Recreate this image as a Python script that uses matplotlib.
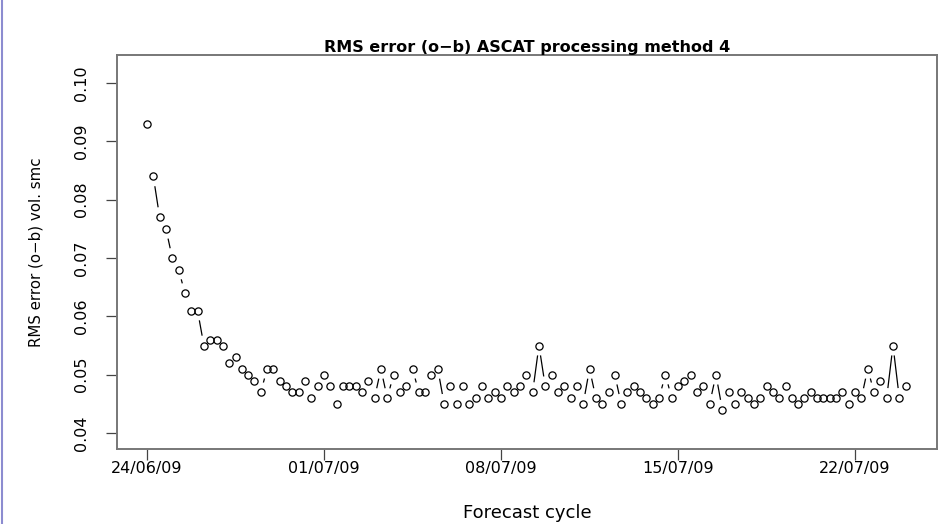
import numpy as np
import pandas as pd
import matplotlib
matplotlib.use("Agg")
import matplotlib.pyplot as plt
import matplotlib.dates as mdates
from matplotlib.collections import LineCollection

plt.rcParams['font.family'] = ['DejaVu Sans']

# RMS error (o-b), one value per 6-hourly forecast cycle from 24/06/09 00Z
rms_error = [
    0.093, 0.084, 0.077, 0.075, 0.070, 0.068, 0.064, 0.061, 0.061, 0.055,
    0.056, 0.056, 0.055, 0.052, 0.053, 0.051, 0.050, 0.049, 0.047, 0.051,
    0.051, 0.049, 0.048, 0.047, 0.047, 0.049, 0.046, 0.048, 0.050, 0.048,
    0.045, 0.048, 0.048, 0.048, 0.047, 0.049, 0.046, 0.051, 0.046, 0.050,
    0.047, 0.048, 0.051, 0.047, 0.047, 0.050, 0.051, 0.045, 0.048, 0.045,
    0.048, 0.045, 0.046, 0.048, 0.046, 0.047, 0.046, 0.048, 0.047, 0.048,
    0.050, 0.047, 0.055, 0.048, 0.050, 0.047, 0.048, 0.046, 0.048, 0.045,
    0.051, 0.046, 0.045, 0.047, 0.050, 0.045, 0.047, 0.048, 0.047, 0.046,
    0.045, 0.046, 0.050, 0.046, 0.048, 0.049, 0.050, 0.047, 0.048, 0.045,
    0.050, 0.044, 0.047, 0.045, 0.047, 0.046, 0.045, 0.046, 0.048, 0.047,
    0.046, 0.048, 0.046, 0.045, 0.046, 0.047, 0.046, 0.046, 0.046, 0.046,
    0.047, 0.045, 0.047, 0.046, 0.051, 0.047, 0.049, 0.046, 0.055, 0.046,
    0.048,
]
cycles = pd.date_range("2009-06-24", periods=len(rms_error), freq="6h")
tick_dates = pd.to_datetime(["2009-06-24", "2009-07-01", "2009-07-08",
                             "2009-07-15", "2009-07-22"])
tick_labels = ["24/06/09", "01/07/09", "08/07/09", "15/07/09", "22/07/09"]
y_ticks = [0.04, 0.05, 0.06, 0.07, 0.08, 0.09, 0.10]

fig = plt.figure(figsize=(9.38, 5.24), dpi=100)
ax = fig.add_axes([117 / 938, 1 - 449 / 524, 820 / 938, 394 / 524])

x = mdates.date2num(cycles)
y = np.array(rms_error)

ax.plot(x, y, linestyle="none", marker="o", markersize=5.2,
        markerfacecolor="none", markeredgecolor="black", markeredgewidth=0.9)

x0 = mdates.date2num(pd.Timestamp("2009-06-24"))
ax.set_xlim(x0 - 1.186, x0 + 31.24)
ax.set_ylim(0.03726, 0.1048)

# type="b" style: segments between points, trimmed back so they stop short
# of each circle (the first cycle stands alone)
gap = 10.0
pix = ax.transData.transform(np.column_stack([x, y]))
inv = ax.transData.inverted()
segs = []
for i in range(1, len(pix) - 1):
    p, q = pix[i], pix[i + 1]
    d = q - p
    dist = np.hypot(*d)
    if dist <= 2 * gap:
        continue
    u = d / dist
    segs.append(inv.transform([p + u * gap, q - u * gap]))
ax.add_collection(LineCollection(segs, colors="black", linewidths=0.9))

ax.set_xticks(mdates.date2num(tick_dates))
ax.set_xticklabels(tick_labels)
ax.set_yticks(y_ticks)
ax.set_yticklabels([f"{v:.2f}" for v in y_ticks], rotation=90, va="center")
ax.tick_params(axis="both", direction="out", length=8, width=0.9,
               color="#444444", labelsize=11.5)
ax.tick_params(axis="x", pad=1)
ax.tick_params(axis="y", pad=12)

for s in ax.spines.values():
    s.set_color("#777777")
    s.set_linewidth(1.4)

ax.set_title("RMS error (o\u2212b) ASCAT processing method 4",
             fontsize=11.5, fontweight="bold", pad=1)
ax.set_xlabel("Forecast cycle", fontsize=13)
ax.xaxis.set_label_coords(0.5, -0.14)
ax.set_ylabel("RMS error (o\u2212b) vol. smc", fontsize=10.8)
ax.yaxis.set_label_coords(-0.09, 0.5)

# thin border on the left edge of the window
fig.add_artist(plt.Line2D([1.5 / 938, 1.5 / 938], [0, 1], color="#8c8cd0",
                          linewidth=1.5))

fig.savefig("out.png", dpi=100)
